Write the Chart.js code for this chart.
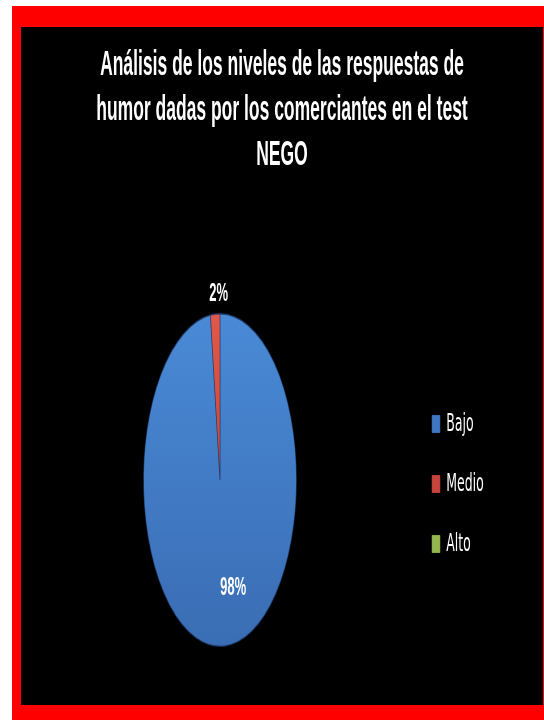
<!DOCTYPE html>
<html>
<head>
<meta charset="utf-8">
<script src="https://cdn.jsdelivr.net/npm/chart.js@4.4.1/dist/chart.umd.min.js"></script>
<style>
  html, body { margin: 0; padding: 0; background: #fff; }
  body { width: 544px; height: 720px; position: relative; overflow: hidden; }
  #marco { position: absolute; left: 12px; top: 6px; width: 532px; height: 714px; background: #ff0000; }
  #fondo { position: absolute; left: 21px; top: 27px; width: 522px; height: 678px; background: #000; overflow: hidden; }
  /* el grafico se dibuja al doble de ancho y se comprime en horizontal */
  #lienzo { position: absolute; left: 0; top: 0; width: 1044px; height: 678px; transform: scaleX(0.5); transform-origin: 0 0; }
</style>
</head>
<body>
<div id="marco"></div>
<div id="fondo">
  <div id="lienzo"><canvas id="grafico"></canvas></div>
</div>
<script>
var niveles = ['Bajo', 'Medio', 'Alto'];
var porcentajes = [98, 2, 0];
var titulo = ['Análisis de los niveles de las respuestas de', 'humor dadas por los comerciantes en el test', 'NEGO'];

var coloresArriba = ['#4a8ad6', '#e0584a', '#a6c663'];
var coloresAbajo = ['#3a6db4', '#b83a30', '#86a842'];
var coloresLeyenda = ['#3f76c0', '#c4453b', '#94b450'];

function degradado(context) {
    var chart = context.chart;
    var i = context.dataIndex;
    var area = chart.chartArea;
    if (!area) return coloresAbajo[i];
    var g = chart.ctx.createLinearGradient(0, area.top, 0, area.bottom);
    g.addColorStop(0, coloresArriba[i]);
    g.addColorStop(1, coloresAbajo[i]);
    return g;
}

// deja la torta a la izquierda y acerca la leyenda
var recolocar = {
    id: 'recolocar',
    afterLayout: function (chart) {
        var area = chart.chartArea;
        area.right = 796;
        area.width = area.right - area.left;
        var leyenda = chart.legend;
        var mover = leyenda.left - 787;
        leyenda.left -= mover;
        leyenda.right -= mover;
        leyenda.top += 4;
        leyenda.bottom += 4;
    }
};

// estira la torta en vertical (elipse)
var achatar = {
    id: 'achatar',
    beforeDatasetsDraw: function (chart) {
        var arc = chart.getDatasetMeta(0).data[0];
        var c = chart.ctx;
        c.save();
        c.translate(arc.x, 0);
        c.scale(0.92, 1);
        c.translate(-arc.x, 0);
    },
    afterDatasetsDraw: function (chart) {
        chart.ctx.restore();
    }
};

// etiquetas de porcentaje
var etiquetas = {
    id: 'etiquetas',
    afterDraw: function (chart) {
        var c = chart.ctx;
        var meta = chart.getDatasetMeta(0);
        c.save();
        c.fillStyle = '#ffffff';
        c.textAlign = 'center';
        c.textBaseline = 'middle';
        meta.data.forEach(function (arc, i) {
            var v = porcentajes[i];
            if (!v) return;
            var p = arc.getProps(['x', 'y', 'startAngle', 'endAngle', 'outerRadius'], true);
            var medio = (p.startAngle + p.endAngle) / 2;
            var r = v < 10 ? p.outerRadius * 1.12 : p.outerRadius * 0.65;
            var dx = v < 10 ? 8 : 20;
            var x = p.x + Math.cos(medio) * r * 0.92 + dx;
            var y = p.y + Math.sin(medio) * r;
            c.font = 'bold 26px "Liberation Sans", Arial, sans-serif';
            c.fillText(v + '%', x, y);
        });
        c.restore();
    }
};

var ctx = document.getElementById('grafico').getContext('2d');
new Chart(ctx, {
    type: 'pie',
    data: {
        labels: niveles,
        datasets: [{
            data: porcentajes,
            backgroundColor: degradado,
            borderColor: 'rgba(28, 55, 100, 0.8)',
            borderWidth: 1.5
        }]
    },
    options: {
        responsive: true,
        maintainAspectRatio: false,
        animation: false,
        layout: {
            padding: { top: 0, left: 0, right: 0, bottom: 58 }
        },
        plugins: {
            title: {
                display: true,
                text: titulo,
                color: '#ffffff',
                font: { family: '"Liberation Sans", Arial, sans-serif', size: 35, weight: 'bold', lineHeight: 1.286 },
                padding: { top: 16, bottom: 135 }
            },
            legend: {
                position: 'right',
                align: 'center',
                fullSize: false,
                labels: {
                    color: '#ffffff',
                    font: { family: '"DejaVu Sans", sans-serif', size: 25 },
                    boxWidth: 16,
                    boxHeight: 17,
                    padding: 35,
                    generateLabels: function (chart) {
                        var items = Chart.overrides.pie.plugins.legend.labels.generateLabels(chart);
                        items.forEach(function (it, i) {
                            it.fillStyle = coloresLeyenda[i];
                            it.strokeStyle = coloresAbajo[i];
                            it.lineWidth = 1;
                            it.hidden = false;
                        });
                        return items;
                    }
                }
            },
            tooltip: { enabled: false }
        }
    },
    plugins: [recolocar, achatar, etiquetas]
});
</script>
</body>
</html>
